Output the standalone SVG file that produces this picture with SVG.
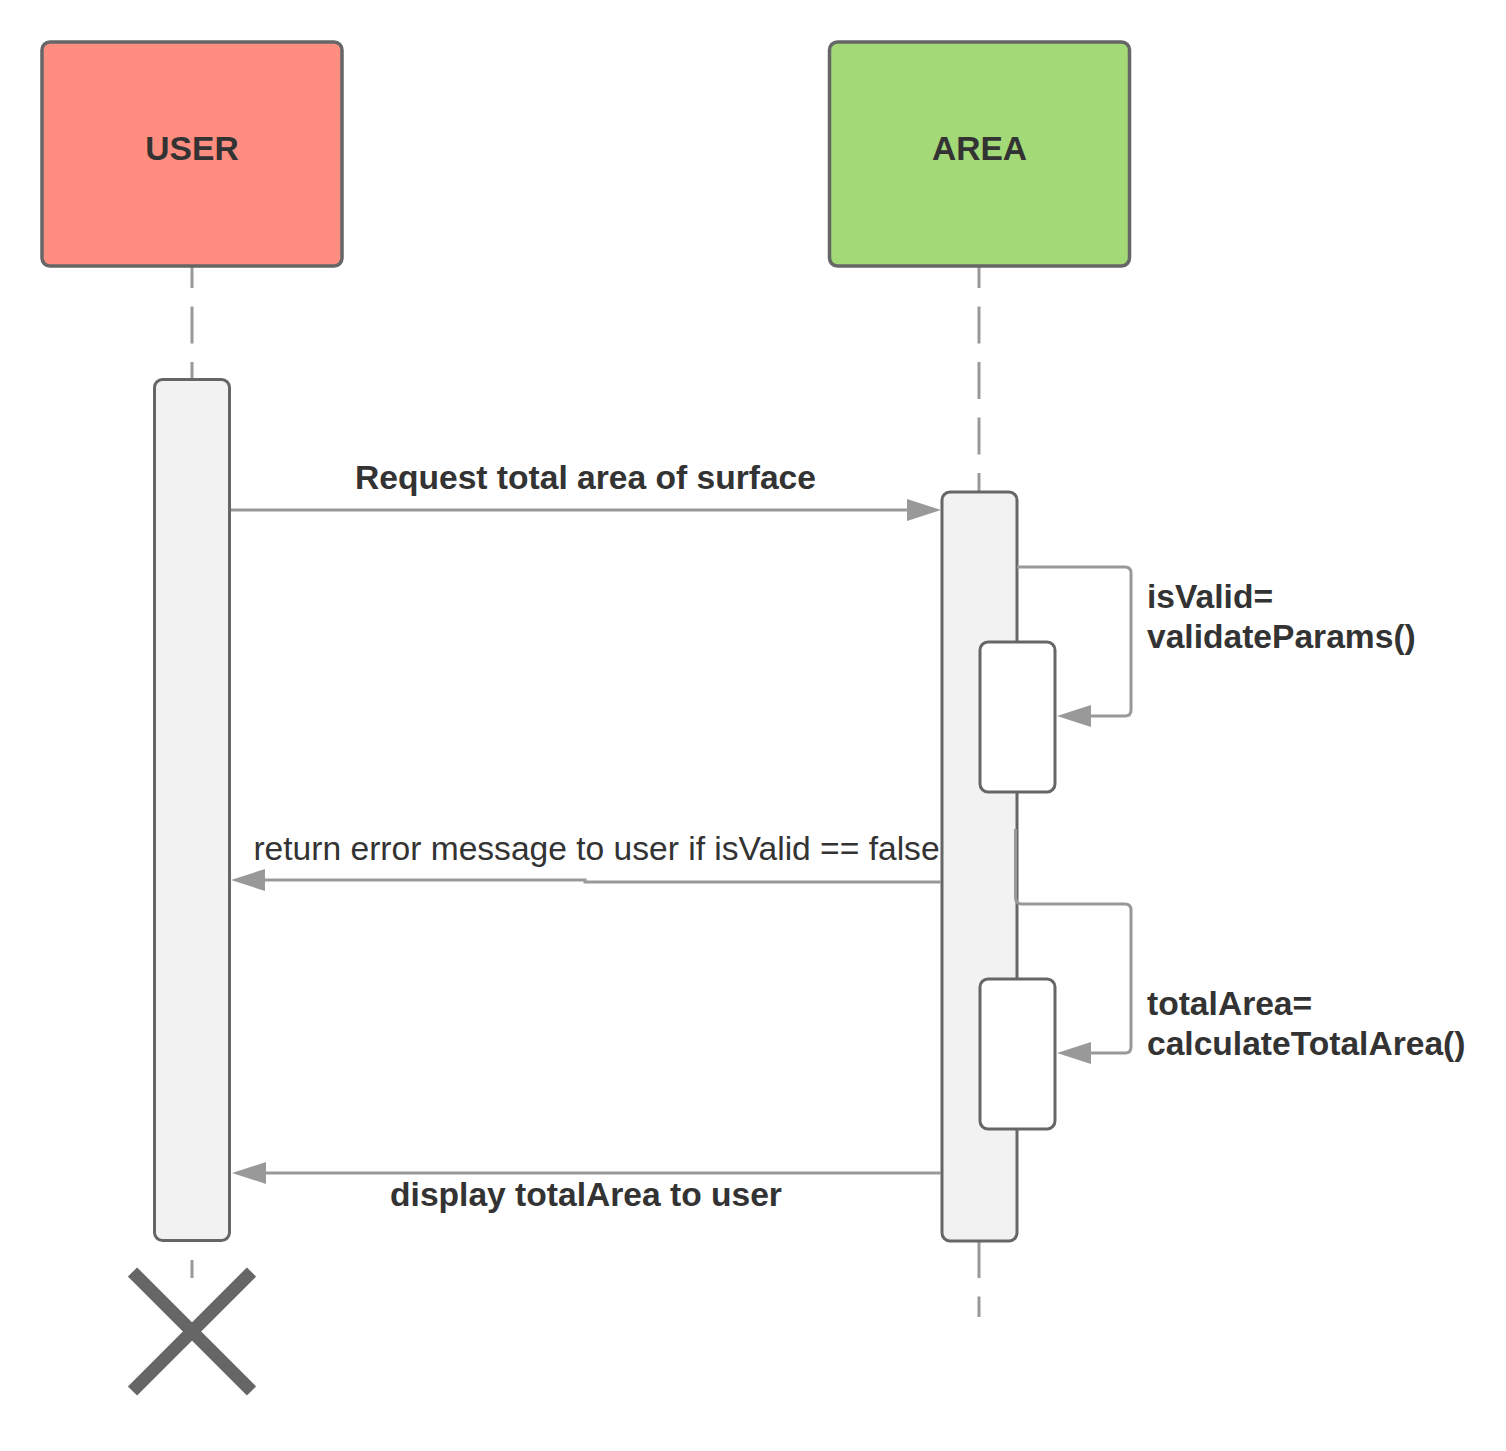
<svg xmlns="http://www.w3.org/2000/svg" width="1506" height="1451" viewBox="0 0 1506 1451">
<defs>
<style>
.actor{stroke:#666;stroke-width:3.5}
.life{stroke:#999;stroke-width:3;fill:none;stroke-dasharray:37 18.5}
.act{fill:#f2f2f2;stroke:#666;stroke-width:3}
.inner{fill:#fff;stroke:#666;stroke-width:3}
.msg{stroke:#999;stroke-width:3;fill:none}
.head{fill:#999}
.t{font-family:"Liberation Sans",Arial,sans-serif;font-size:33.6px;fill:#333}
.b{font-weight:bold}
</style>
</defs>
<rect width="1506" height="1451" fill="#fff"/>
<g id="lifelines">
<line class="life" x1="192" y1="267" x2="192" y2="379" stroke-dashoffset="16"/>
<line class="life" x1="979" y1="267" x2="979" y2="492" stroke-dashoffset="16"/>
<line class="msg" x1="192" y1="1260" x2="192" y2="1278"/>
<line class="life" x1="979" y1="1241" x2="979" y2="1317"/>
</g>
<g id="user">
<rect class="actor" x="42" y="42" width="300" height="224" rx="8" fill="#ff8e80"/>
<text class="t b" x="192" y="160" text-anchor="middle">USER</text>
</g>
<g id="area">
<rect class="actor" x="829.5" y="42" width="300" height="224" rx="8" fill="#a3d977"/>
<text class="t b" x="979.5" y="160" text-anchor="middle">AREA</text>
</g>
<g id="user-activation">
<rect class="act" x="154.5" y="379.5" width="75" height="861" rx="8"/>
</g>
<g id="area-activation">
<rect class="act" x="942" y="492" width="75" height="749" rx="8"/>
</g>
<g id="validate-activation">
<rect class="inner" x="980" y="642" width="75" height="150" rx="8"/>
</g>
<g id="calculate-activation">
<rect class="inner" x="980" y="979" width="75" height="150" rx="8"/>
</g>
<g id="connectors">
<line class="msg" x1="231" y1="510" x2="910" y2="510"/>
<polygon class="head" points="941,510 907,499 907,521"/>
<path class="msg" d="M1017 567 H1125 Q1131 567 1131 573 V710 Q1131 716 1125 716 H1088"/>
<polygon class="head" points="1057,716 1091,705 1091,727"/>
<path class="msg" d="M941 882 H585 V880 H262"/>
<polygon class="head" points="231,880 265,869 265,891"/>
<path class="msg" d="M1015.5 829 V897 Q1015.5 904 1022 904 H1125 Q1131 904 1131 910 V1047 Q1131 1053 1125 1053 H1088"/>
<polygon class="head" points="1057,1053 1091,1042 1091,1064"/>
<line class="msg" x1="941" y1="1173" x2="262" y2="1173"/>
<polygon class="head" points="232,1173 266,1162 266,1184"/>
</g>
<g id="labels">
<text class="t b" x="585.5" y="489" text-anchor="middle">Request total area of surface</text>
<text class="t" x="596.5" y="860" text-anchor="middle">return error message to user if isValid == false</text>
<text class="t b" x="586" y="1206" text-anchor="middle">display totalArea to user</text>
<text class="t b" x="1147" y="608">isValid=</text>
<text class="t b" x="1147" y="648">validateParams()</text>
<text class="t b" x="1147" y="1015">totalArea=</text>
<text class="t b" x="1147" y="1055">calculateTotalArea()</text>
</g>
<g id="destroy">
<line x1="132.5" y1="1272" x2="251.5" y2="1391" stroke="#666" stroke-width="13"/>
<line x1="251.5" y1="1272" x2="132.5" y2="1391" stroke="#666" stroke-width="13"/>
</g>
</svg>
